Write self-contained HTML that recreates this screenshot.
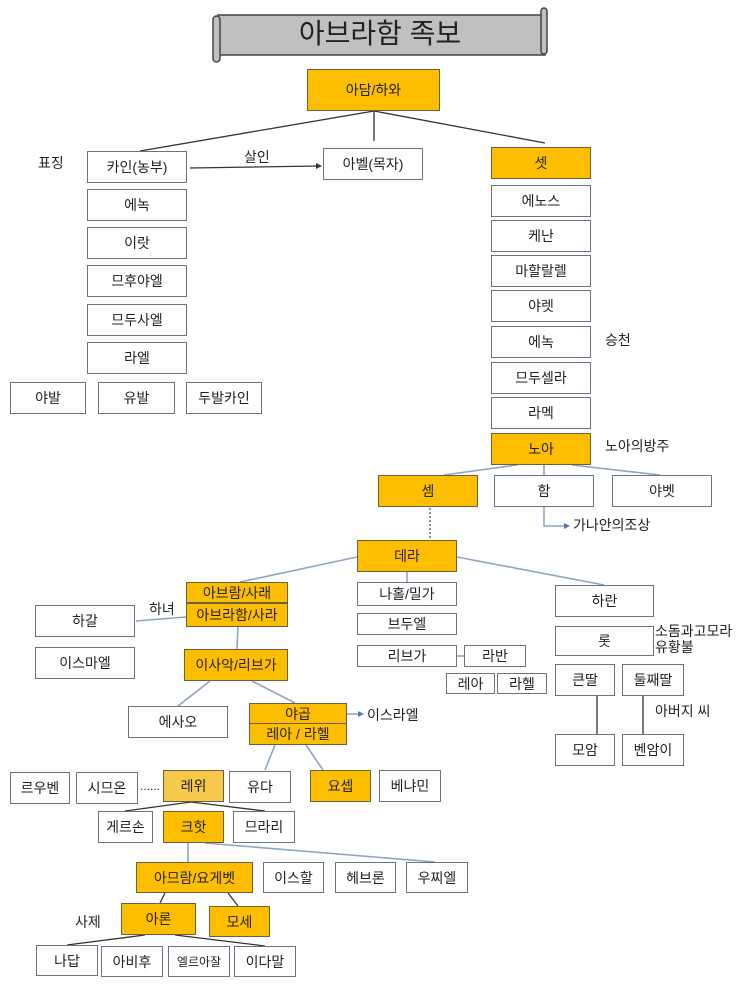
<!DOCTYPE html>
<html><head><meta charset="utf-8"><style>
body{margin:0;width:743px;height:988px;background:#fff;position:relative;overflow:hidden;font-family:"Liberation Sans","Noto Sans CJK KR",sans-serif;}
.b{position:absolute;box-sizing:border-box;border:1.5px solid #6b7380;background:#fff;display:flex;align-items:center;justify-content:center;font-size:14px;color:#222;white-space:nowrap;}
.o{background:#fdbe00;border-color:#6b6040;}
.t{position:absolute;font-size:14px;color:#222;white-space:nowrap;line-height:1.15;}
svg{position:absolute;left:0;top:0;}
</style></head><body>
<svg width="743" height="988">
<!-- scroll -->
<rect x="218" y="15" width="327" height="40" fill="#c0c0c0" stroke="#444" stroke-width="1.5"/>
<rect x="213" y="16" width="7" height="46" rx="3.5" fill="#c0c0c0" stroke="#444" stroke-width="1.5"/>
<rect x="541" y="8" width="6" height="46" rx="3" fill="#c0c0c0" stroke="#444" stroke-width="1.5"/>
<g stroke="#333" stroke-width="1.3" fill="none">
<line x1="374" y1="111" x2="140" y2="151"/>
<line x1="374" y1="111" x2="374" y2="141"/>
<line x1="374" y1="111" x2="545" y2="143"/>
<line x1="190" y1="168" x2="318" y2="166"/>
</g>
<polygon points="322,166 316,163 316,169" fill="#333"/>
<g stroke="#8ca3c6" stroke-width="1.6" fill="none">
<line x1="517" y1="465" x2="444" y2="475"/>
<line x1="544" y1="465" x2="544" y2="475"/>
<line x1="572" y1="465" x2="660" y2="475"/>
<polyline points="544,507 544,526 566,526"/>
<line x1="357" y1="557" x2="240" y2="582"/>
<line x1="407" y1="572" x2="407" y2="582"/>
<line x1="457" y1="557" x2="604" y2="585"/>
<line x1="136" y1="621" x2="186" y2="617"/>
<line x1="238" y1="627" x2="237" y2="649"/>
<line x1="210" y1="681" x2="178" y2="706"/>
<line x1="252" y1="681" x2="295" y2="703"/>
<line x1="457" y1="656" x2="464" y2="656"/>
<line x1="314" y1="714" x2="360" y2="714"/>
<line x1="275" y1="745" x2="265" y2="770"/>
<line x1="306" y1="745" x2="323" y2="770"/>
<line x1="188" y1="843" x2="188" y2="862"/>
<line x1="205" y1="843" x2="435" y2="862"/>
</g>
<polygon points="364,714 358,711 358,717" fill="#5577aa"/>
<polygon points="570,526 564,523 564,529" fill="#5577aa"/>
<line x1="430" y1="508" x2="430" y2="539" stroke="#555" stroke-width="1.3" stroke-dasharray="2,2"/>
<g stroke="#333" stroke-width="1.3" fill="none">
<line x1="191" y1="802" x2="125" y2="811"/>
<line x1="191" y1="802" x2="265" y2="811"/>
<line x1="165" y1="893" x2="160" y2="903"/>
<line x1="228" y1="893" x2="238" y2="906"/>
<line x1="145" y1="935" x2="67" y2="945"/>
<line x1="175" y1="935" x2="265" y2="946"/>
<line x1="597" y1="696" x2="597" y2="734"/>
<line x1="643" y1="696" x2="643" y2="734"/>
</g>
<text x="380" y="43" font-size="28" text-anchor="middle" fill="#222" font-family="Liberation Sans, Noto Sans CJK KR, sans-serif">아브라함 족보</text>
</svg>

<div class="b o" style="left:307px;top:69px;width:133px;height:42px">아담/하와</div>
<div class="b" style="left:87px;top:151px;width:100px;height:32px">카인(농부)</div>
<div class="b" style="left:87px;top:189px;width:100px;height:32px">에녹</div>
<div class="b" style="left:87px;top:227px;width:100px;height:32px">이랏</div>
<div class="b" style="left:87px;top:265px;width:100px;height:32px">므후야엘</div>
<div class="b" style="left:87px;top:304px;width:100px;height:32px">므두사엘</div>
<div class="b" style="left:87px;top:342px;width:100px;height:32px">라엘</div>
<div class="b" style="left:10px;top:382px;width:76px;height:32px">야발</div>
<div class="b" style="left:98px;top:382px;width:77px;height:32px">유발</div>
<div class="b" style="left:186px;top:382px;width:76px;height:32px">두발카인</div>
<div class="b" style="left:323px;top:148px;width:100px;height:32px">아벨(목자)</div>
<div class="t" style="left:38px;top:155px">표징</div>
<div class="t" style="left:244px;top:149px">살인</div>

<div class="b o" style="left:491px;top:147px;width:100px;height:32px">셋</div>
<div class="b" style="left:491px;top:185px;width:100px;height:32px">에노스</div>
<div class="b" style="left:491px;top:220px;width:100px;height:32px">케난</div>
<div class="b" style="left:491px;top:255px;width:100px;height:32px">마할랄렐</div>
<div class="b" style="left:491px;top:290px;width:100px;height:32px">야렛</div>
<div class="b" style="left:491px;top:326px;width:100px;height:32px">에녹</div>
<div class="b" style="left:491px;top:362px;width:100px;height:32px">므두셀라</div>
<div class="b" style="left:491px;top:397px;width:100px;height:32px">라멕</div>
<div class="b o" style="left:491px;top:433px;width:100px;height:32px">노아</div>
<div class="t" style="left:605px;top:332px">승천</div>
<div class="t" style="left:605px;top:438px">노아의방주</div>

<div class="b o" style="left:378px;top:475px;width:100px;height:32px">셈</div>
<div class="b" style="left:494px;top:475px;width:100px;height:32px">함</div>
<div class="b" style="left:612px;top:475px;width:100px;height:32px">야벳</div>
<div class="t" style="left:573px;top:517px">가나안의조상</div>

<div class="b o" style="left:357px;top:540px;width:100px;height:32px">데라</div>
<div class="b o" style="left:186px;top:582px;width:102px;height:21px">아브람/사래</div>
<div class="b o" style="left:186px;top:603px;width:102px;height:24px">아브라함/사라</div>
<div class="b" style="left:35px;top:605px;width:100px;height:32px">하갈</div>
<div class="b" style="left:35px;top:647px;width:100px;height:32px">이스마엘</div>
<div class="t" style="left:149px;top:601px">하녀</div>
<div class="b o" style="left:184px;top:649px;width:104px;height:32px">이사악/리브가</div>

<div class="b" style="left:357px;top:582px;width:100px;height:24px">나홀/밀가</div>
<div class="b" style="left:357px;top:613px;width:100px;height:22px">브두엘</div>
<div class="b" style="left:357px;top:645px;width:100px;height:22px">리브가</div>
<div class="b" style="left:464px;top:645px;width:62px;height:22px">라반</div>
<div class="b" style="left:446px;top:673px;width:49px;height:21px">레아</div>
<div class="b" style="left:497px;top:673px;width:50px;height:21px">라헬</div>

<div class="b" style="left:555px;top:585px;width:99px;height:32px">하란</div>
<div class="b" style="left:555px;top:626px;width:99px;height:30px">롯</div>
<div class="t" style="left:655px;top:623px">소돔과고모라<br>유황불</div>
<div class="b" style="left:555px;top:664px;width:60px;height:32px">큰딸</div>
<div class="b" style="left:622px;top:664px;width:62px;height:32px">둘째딸</div>
<div class="t" style="left:655px;top:703px">아버지 씨</div>
<div class="b" style="left:555px;top:734px;width:60px;height:32px">모암</div>
<div class="b" style="left:622px;top:734px;width:62px;height:32px">벤암이</div>

<div class="b" style="left:128px;top:706px;width:100px;height:32px">에사오</div>
<div class="b o" style="left:249px;top:703px;width:98px;height:21px">야곱</div>
<div class="b o" style="left:249px;top:723px;width:98px;height:22px">레아 / 라헬</div>
<div class="t" style="left:367px;top:707px">이스라엘</div>

<div class="b" style="left:10px;top:772px;width:60px;height:32px">르우벤</div>
<div class="b" style="left:76px;top:772px;width:62px;height:32px">시므온</div>
<div class="t" style="left:140px;top:780px;font-size:12px">......</div>
<div class="b o" style="left:163px;top:770px;width:61px;height:32px;background:#f6c94a">레위</div>
<div class="b" style="left:229px;top:771px;width:62px;height:32px">유다</div>
<div class="b o" style="left:310px;top:770px;width:61px;height:32px">요셉</div>
<div class="b" style="left:379px;top:770px;width:62px;height:32px">베냐민</div>

<div class="b" style="left:98px;top:811px;width:55px;height:32px">게르손</div>
<div class="b o" style="left:163px;top:811px;width:61px;height:32px">크핫</div>
<div class="b" style="left:233px;top:811px;width:62px;height:32px">므라리</div>

<div class="b o" style="left:136px;top:862px;width:117px;height:31px">아므람/요게벳</div>
<div class="b" style="left:263px;top:862px;width:61px;height:31px">이스할</div>
<div class="b" style="left:335px;top:862px;width:61px;height:31px">헤브론</div>
<div class="b" style="left:406px;top:862px;width:62px;height:31px">우찌엘</div>

<div class="b o" style="left:121px;top:903px;width:75px;height:32px">아론</div>
<div class="b o" style="left:209px;top:906px;width:61px;height:31px">모세</div>
<div class="t" style="left:75px;top:914px">사제</div>

<div class="b" style="left:36px;top:945px;width:62px;height:31px">나답</div>
<div class="b" style="left:101px;top:946px;width:62px;height:31px">아비후</div>
<div class="b" style="left:168px;top:946px;width:62px;height:31px;font-size:12px">엘르아잘</div>
<div class="b" style="left:234px;top:946px;width:62px;height:31px">이다말</div>
</body></html>
